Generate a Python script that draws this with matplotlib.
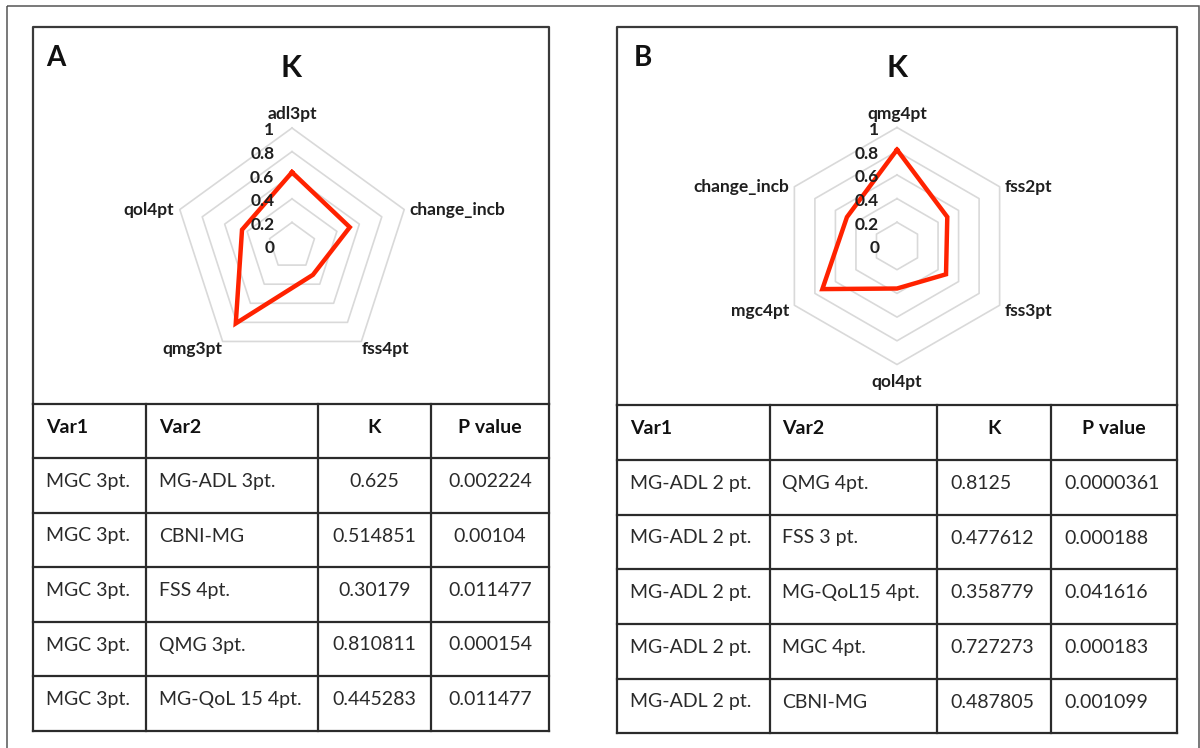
import matplotlib.pyplot as plt
import numpy as np
from matplotlib.patches import Rectangle

plt.rcParams['font.family'] = ['Lato', 'DejaVu Sans']

# ---- data, panel A
a_axes = ['adl3pt', 'change_incb', 'fss4pt', 'qmg3pt', 'qol4pt']
a_k = [0.625, 0.514851, 0.30179, 0.810811, 0.445283]
a_var1 = ['MGC 3pt.', 'MGC 3pt.', 'MGC 3pt.', 'MGC 3pt.', 'MGC 3pt.']
a_var2 = ['MG-ADL 3pt.', 'CBNI-MG', 'FSS 4pt.', 'QMG 3pt.', 'MG-QoL 15 4pt.']
a_kcol = ['0.625', '0.514851', '0.30179', '0.810811', '0.445283']
a_p = ['0.002224', '0.00104', '0.011477', '0.000154', '0.011477']

# ---- data, panel B
b_axes = ['qmg4pt', 'fss2pt', 'fss3pt', 'qol4pt', 'mgc4pt', 'change_incb']
b_k = [0.8125, 0.49, 0.477612, 0.358779, 0.727273, 0.487805]
b_var1 = ['MG-ADL 2 pt.', 'MG-ADL 2 pt.', 'MG-ADL 2 pt.', 'MG-ADL 2 pt.', 'MG-ADL 2 pt.']
b_var2 = ['QMG 4pt.', 'FSS 3 pt.', 'MG-QoL15 4pt.', 'MGC 4pt.', 'CBNI-MG']
b_kcol = ['0.8125', '0.477612', '0.358779', '0.727273', '0.487805']
b_p = ['0.0000361', '0.000188', '0.041616', '0.000183', '0.001099']

header = ['Var1', 'Var2', 'K', 'P value']
ticks = [0, 0.2, 0.4, 0.6, 0.8, 1]

W, H = 1200, 748
fig = plt.figure(figsize=(12, 7.48), dpi=100)
bg = fig.add_axes([0, 0, 1, 1])
bg.set_xlim(0, W)
bg.set_ylim(H, 0)
bg.axis('off')
bg.add_patch(Rectangle((7, 6), 1192, 780, fill=False, ec='#555555', lw=1.1))

LC = '#2b2b2b'
TXT = '#1f1f1f'


def radar(cx, cy, R, labels, values):
    half = 1.6
    ax = fig.add_axes([(cx - half * R) / W, 1 - (cy + half * R) / H,
                       2 * half * R / W, 2 * half * R / H])
    ax.set_xlim(-half, half)
    ax.set_ylim(-half, half)
    ax.axis('off')
    n = len(labels)
    ang = np.arange(n) * 2 * np.pi / n
    s, c = np.sin(ang), np.cos(ang)
    for lv in ticks[1:]:
        ax.plot(np.append(s, s[0]) * lv, np.append(c, c[0]) * lv,
                color='#d9d9d9', lw=1.2, zorder=1)
    v = np.array(values)
    ax.plot(np.append(v * s, v[0] * s[0]), np.append(v * c, v[0] * c[0]),
            color='#ff2200', lw=3.2, solid_joinstyle='miter', zorder=2)
    for t in ticks:
        ax.text(-0.15, t - 0.02, f'{t:g}', ha='right', va='center',
                fontsize=12.5, fontweight='bold', color=TXT, zorder=3)
    for lab, si, ci in zip(labels, s, c):
        kw = dict(fontsize=12.5, fontweight='bold', color=TXT)
        if abs(si) < 1e-6:
            if ci > 0:
                ax.text(0, 1.05, lab, ha='center', va='bottom', **kw)
            else:
                ax.text(0, -1.08, lab, ha='center', va='top', **kw)
        elif abs(ci) < 0.6:
            ax.text(si + 0.045 * np.sign(si), ci - (0.05 if ci < 0 else 0), lab,
                    ha='left' if si > 0 else 'right', va='center', **kw)
        else:
            ax.text(si, ci, lab, ha='left' if si > 0 else 'right', va='top', **kw)


def panel(letter, lx, top, rows, cols, columns, body_align):
    left, right = cols[0], cols[-1]
    bg.plot([left, left, right, right], [rows[0], top, top, rows[0]],
            color='#3a3a3a', lw=1.6)
    for y in rows:
        bg.plot([left, right], [y, y], color=LC, lw=1.6)
    for x in cols:
        bg.plot([x, x], [rows[0], rows[-1]], color=LC, lw=1.6)
    bg.text(lx, 58, letter, fontsize=20, fontweight='bold', ha='left', va='center', color='#111111')
    bg.text((left + right) / 2, 67.5, 'K', fontsize=22, fontweight='bold',
            ha='center', va='center', color='#111111')
    head_align = ['left', 'left', 'center', 'center']
    table = [header] + [list(r) for r in zip(*columns)]
    for i, row in enumerate(table):
        y = (rows[i] + rows[i + 1]) / 2 - 4
        aligns = head_align if i == 0 else body_align
        for j, val in enumerate(row):
            if aligns[j] == 'left':
                x = cols[j] + 13
            else:
                x = (cols[j] + cols[j + 1]) / 2
            bg.text(x, y, val, ha=aligns[j], va='center', fontsize=14,
                    fontweight='bold' if i == 0 else 'normal',
                    color='#111111' if i == 0 else '#2a2a2a')


panel('A', 46, 27, [404, 458, 513, 567, 622, 676, 731], [33, 146, 318, 431, 549],
      [a_var1, a_var2, a_kcol, a_p], ['left', 'left', 'center', 'center'])
panel('B', 634, 27, [405, 460, 515, 569, 624, 679, 733], [617, 769.5, 937, 1051, 1177],
      [b_var1, b_var2, b_kcol, b_p], ['left', 'left', 'left', 'left'])

radar(292, 246, 118, a_axes, a_k)
radar(897, 246, 118.5, b_axes, b_k)

fig.savefig('out.png', dpi=100)
